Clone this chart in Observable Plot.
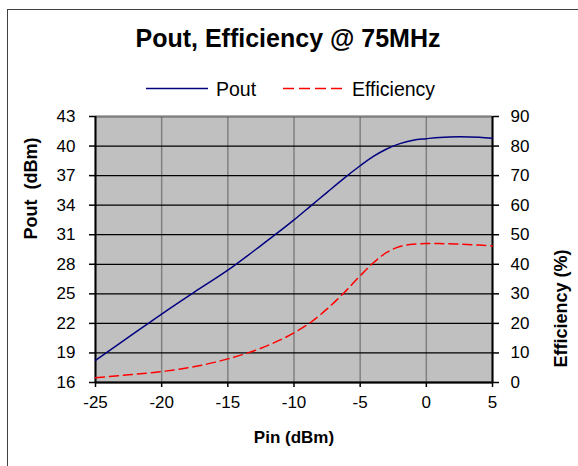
<!DOCTYPE html>
<html><head><meta charset="utf-8">
<script src="https://cdn.jsdelivr.net/npm/d3@7"></script>
<script src="https://cdn.jsdelivr.net/npm/@observablehq/plot@0.6"></script>
<style>
body{margin:0;background:#fff;font-family:"Liberation Sans",Arial,sans-serif;}
#wrap{position:relative;width:578px;height:466px;overflow:hidden;background:#fff;}
#frame{position:absolute;left:7px;top:9px;width:700px;height:600px;border-left:1.5px solid #404040;border-top:1.5px solid #404040;}
#title{position:absolute;left:0;width:576px;top:26px;text-align:center;font-weight:bold;font-size:25px;line-height:24px;white-space:nowrap;}
#legend{position:absolute;left:0;top:76px;}
#chart{position:absolute;left:0;top:0;}
</style></head>
<body>
<div id="wrap">
  <div id="frame"></div>
  <div id="title">Pout, Efficiency @ 75MHz</div>
  <svg id="legend" width="578" height="26" font-family="Liberation Sans, Arial, sans-serif" font-size="19.5">
    <line x1="146" x2="208" y1="12.5" y2="12.5" stroke="#000080" stroke-width="1.5"/>
    <text x="216" y="13" dominant-baseline="central">Pout</text>
    <line x1="283" x2="342" y1="12.5" y2="12.5" stroke="#ff0000" stroke-width="1.5" stroke-dasharray="11,5"/>
    <text x="352" y="13" dominant-baseline="central">Efficiency</text>
  </svg>
  <div id="chart"></div>
</div>
<script>
const pin  = [-25, -22.5, -20, -17.5, -15, -12.5, -10, -8.75, -7.5, -6.25, -5, -4, -3, -2, -1, 0, 1, 2.5, 4, 5];
const pout = [18.25, 20.6, 22.95, 25.2, 27.4, 29.9, 32.5, 33.9, 35.3, 36.7, 38.0, 38.95, 39.7, 40.25, 40.6, 40.75, 40.88, 40.95, 40.9, 40.8];
const eff  = [1.6, 2.6, 3.7, 5.4, 8.0, 11.6, 16.8, 20.3, 24.9, 30.2, 36.1, 40.5, 44.0, 46.0, 46.8, 47.0, 47.0, 46.8, 46.5, 46.2];
const xTicks = [-25, -20, -15, -10, -5, 0, 5];
const poutTicks = [16, 19, 22, 25, 28, 31, 34, 37, 40, 43];
const effTicks = [0, 10, 20, 30, 40, 50, 60, 70, 80, 90];

const poutMin = 16, poutMax = 43, effMax = 90;
const effToPout = e => poutMin + e * (poutMax - poutMin) / effMax;
const poutToEff = p => String(Math.round((p - poutMin) * effMax / (poutMax - poutMin)));

const data = pin.map((x, i) => ({pin: x, pout: pout[i], eff: eff[i]}));

const chart = Plot.plot({
  width: 578,
  height: 466,
  marginLeft: 95,
  marginRight: 86,
  marginTop: 116,
  marginBottom: 84,
  style: {fontFamily: "Liberation Sans, Arial, sans-serif", fontSize: "17px", background: "transparent", color: "#000"},
  x: {domain: [-25, 5]},
  y: {domain: [poutMin, poutMax]},
  marks: [
    Plot.frame({fill: "#c0c0c0", stroke: null}),
    Plot.gridX(xTicks, {stroke: "#808080", strokeOpacity: 1, strokeWidth: 1.5}),
    Plot.gridY(poutTicks, {stroke: "#000", strokeOpacity: 1, strokeWidth: 1.3}),
    Plot.ruleY([poutMax], {stroke: "#808080", strokeWidth: 1.5}),
    Plot.ruleX([-25, 5], {stroke: "#000", strokeWidth: 2}),
    Plot.ruleY([poutMin], {stroke: "#000", strokeWidth: 2}),
    Plot.axisX(xTicks, {tickSize: 5, tickPadding: 8, label: null, strokeWidth: 1.5, tickFormat: d => String(d)}),
    Plot.axisY(poutTicks, {anchor: "left", tickSize: 6, tickPadding: 14, label: null, strokeWidth: 1.5, tickFormat: d => String(d)}),
    Plot.axisY(effTicks.map(effToPout), {anchor: "right", tickSize: 6, tickPadding: 12, label: null, tickFormat: poutToEff, strokeWidth: 1.5}),
    Plot.line(data, {x: "pin", y: d => effToPout(d.eff), stroke: "#ff0000", strokeWidth: 1.5, strokeDasharray: "9,5", curve: "monotone-x"}),
    Plot.line(data, {x: "pin", y: "pout", stroke: "#000080", strokeWidth: 1.5, curve: "monotone-x"}),
    Plot.text(["Pout\u00a0 (dBm)"], {frameAnchor: "left", dx: -64, dy: -10, rotate: -90, fontWeight: "bold", fontSize: 18, fill: "#000"}),
    Plot.text(["Efficiency (%)"], {frameAnchor: "right", dx: 69, rotate: -90, fontWeight: "bold", fontSize: 18, fill: "#000"}),
    Plot.text(["Pin (dBm)"], {frameAnchor: "bottom", dy: 60, fontWeight: "bold", fontSize: 17, fill: "#000"})
  ]
});
document.getElementById("chart").appendChild(chart);
</script>
</body></html>
